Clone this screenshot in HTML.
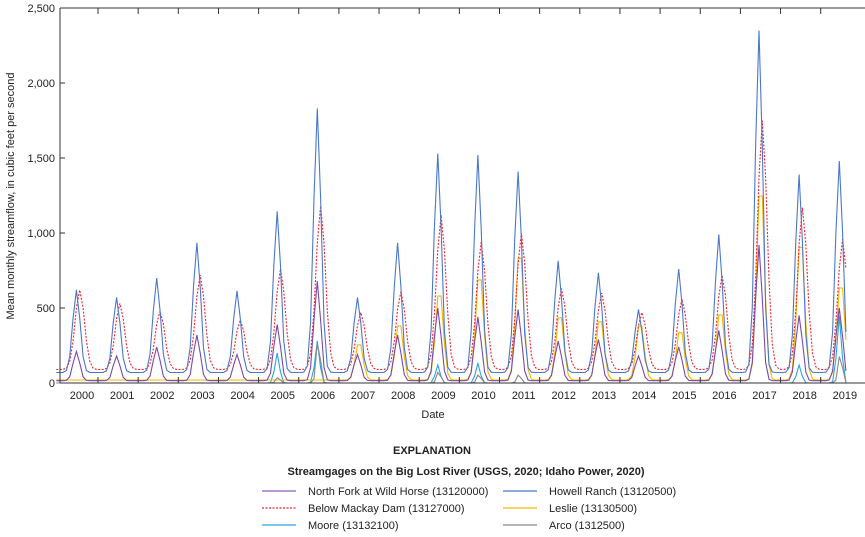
<!DOCTYPE html>
<html><head><meta charset="utf-8"><style>
body{margin:0;background:#fff;width:865px;height:532px;overflow:hidden;font-family:"Liberation Sans",sans-serif}
svg text{font-family:"Liberation Sans",sans-serif;font-size:11px;fill:#222}
</style></head><body>
<svg id="s" width="865" height="532" xmlns="http://www.w3.org/2000/svg">
<g id="plot"></g>
<line x1="60" y1="8" x2="60" y2="383" stroke="#333"/>
<line x1="60" y1="383" x2="865" y2="383" stroke="#333"/>
<line x1="60" y1="8" x2="865" y2="8" stroke="#333"/>
<g id="ax"></g>
<text x="433" y="418" text-anchor="middle" font-size="12.5">Date</text>
<text transform="translate(14,196) rotate(-90)" text-anchor="middle" font-size="12.5">Mean monthly streamflow, in cubic feet per second</text>
<text x="432" y="454" text-anchor="middle" font-weight="bold" font-size="12.5">EXPLANATION</text>
<text x="466" y="475" text-anchor="middle" font-weight="bold" font-size="10.5">Streamgages on the Big Lost River (USGS, 2020; Idaho Power, 2020)</text>
<line x1="262" y1="491" x2="296" y2="491" stroke="#8e5fb8" stroke-width="1.2"/>
<text x="308" y="495">North Fork at Wild Horse (13120000)</text>
<line x1="262" y1="508" x2="296" y2="508" stroke="#e23" stroke-dasharray="2,1.5" stroke-width="1.2"/>
<text x="308" y="512">Below Mackay Dam (13127000)</text>
<line x1="262" y1="525" x2="296" y2="525" stroke="#2aa5e0" stroke-width="1.2"/>
<text x="308" y="529">Moore (13132100)</text>
<line x1="503" y1="491" x2="537" y2="491" stroke="#4a78c8" stroke-width="1.2"/>
<text x="549" y="495">Howell Ranch (13120500)</text>
<line x1="503" y1="508" x2="537" y2="508" stroke="#f3b800" stroke-width="1.2"/>
<text x="549" y="512">Leslie (13130500)</text>
<line x1="503" y1="525" x2="537" y2="525" stroke="#888" stroke-width="1.2"/>
<text x="549" y="529">Arco (1312500)</text>
</svg>
<script>
var NS="http://www.w3.org/2000/svg",ax=document.getElementById('ax'),pl=document.getElementById('plot');
function el(t,a,p){var e=document.createElementNS(NS,t);for(var k in a)e.setAttribute(k,a[k]);(p||ax).appendChild(e);return e}
for(var v=0;v<=2500;v+=500){var y=383-v*0.15;el('line',{x1:60,x2:65,y1:y,y2:y,stroke:'#333'});
var t=el('text',{x:55,y:y+4,'text-anchor':'end'});t.textContent=v.toLocaleString('en-US');}
for(var i=0;i<20;i++){var cx=82+i*40.15;var t=el('text',{x:cx,y:399,'text-anchor':'middle'});t.textContent=2000+i;
if(i<19){var x=98+i*40.15;el('line',{x1:x,x2:x,y1:8,y2:14,stroke:'#333'});el('line',{x1:x,x2:x,y1:377,y2:383,stroke:'#333'});}}
function X(m){return 58+m*40.15/12}
function Y(v){return 383-v*0.15}
var H=[620,570,700,935,615,1145,1830,570,935,1530,1520,1410,815,735,490,760,990,2350,1390,1480].map(function(v){return v-70});
var M=[620,530,480,720,420,760,1180,470,610,1120,940,1000,630,600,470,560,720,1750,1170,960].map(function(v){return v-90});
var N=[210,180,240,320,190,390,680,190,320,500,440,490,280,290,180,240,350,920,450,500].map(function(v){return v-15});
var L=[0,0,0,0,0,0,0,260,400,620,740,900,460,430,400,350,480,1360,980,680];
var C=[0,0,0,0,0,200,280,0,0,120,130,0,0,0,0,0,0,0,120,450];
function series(pk,base,w,shift){var p=[];for(var m=-1;m<=235;m++){var yr=Math.floor((m+12)/12)-1;var v=base;
for(var k=Math.max(0,yr-1);k<=Math.min(19,yr+1);k++){var d=m-(k*12+5+shift);v+=pk[k]*Math.exp(-d*d/(2*w*w));}
p.push([X(m+0.5),Math.max(Y(v),8)]);}return p}
function draw(p,c,extra){var d='M'+p.map(function(q){return q[0].toFixed(1)+','+q[1].toFixed(1)}).join('L');
var a={d:d,fill:'none',stroke:c,'stroke-width':1.1};for(var k in extra)a[k]=extra[k];el('path',a,pl)}
draw(series(C,0,0.7,0),'#2aa5e0');
draw(series(L,20,1.1,0.5),'#f3b800');
draw(series(M,90,1.4,1),'#e23',{'stroke-dasharray':'2,1.5'});
draw(series(H,70,1.1,0),'#4a78c8');
draw(series(N,15,1.0,0),'#7a4aa8');
draw(series([0,0,0,0,0,40,300,0,0,80,60,60,0,0,0,0,0,0,0,200],0,0.6,0.3),'#888');
</script>
</body></html>
